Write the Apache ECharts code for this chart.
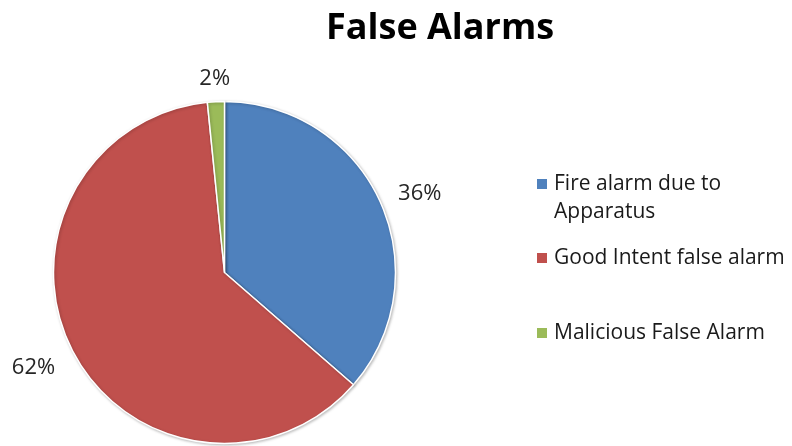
<!DOCTYPE html>
<html>
<head>
<meta charset="utf-8">
<script src="https://cdn.jsdelivr.net/npm/echarts@6/dist/echarts.min.js"></script>
<style>
  html, body { margin: 0; padding: 0; background: #fff; }
  #main { width: 792px; height: 446px; }
</style>
</head>
<body>
<div id="main"></div>
<script>
// data
const categories = ['Fire alarm due to Apparatus', 'Good Intent false alarm', 'Malicious False Alarm']
const shares = [36.4, 62.0, 1.6]
const colors = ['#4F81BD', '#C0504D', '#9BBB59']

const chart = echarts.init(document.getElementById('main'))

// one legend per entry, the gaps are not even in the original
const legendTops = [142, 244, 319]
const legends = categories.map((name, i) => ({
  orient: 'vertical',
  left: 535,
  top: legendTops[i],
  padding: 0,
  itemWidth: 12,
  itemHeight: 12,
  icon: 'rect',
  selectedMode: false,
  data: [name],
  // leading blank line keeps the marker level with the first line
  formatter: (n) => n === 'Fire alarm due to Apparatus' ? '\nFire alarm due to\nApparatus' : n,
  textStyle: {
    fontFamily: 'Open Sans',
    fontSize: 21,
    color: '#1a1a1a',
    lineHeight: 28,
    padding: [0, 0, 0, 1]
  }
}))

// small nudges so the labels sit where Excel put them
const labelNudge = [{dx: -3, dy: 2}, {dx: 3, dy: 6}, {align: 'center'}]

chart.setOption({
  animation: false,
  color: colors,
  title: {
    text: 'False Alarms',
    left: 321,
    top: 6,
    textStyle: {
      fontFamily: 'Open Sans',
      fontWeight: 'bold',
      fontSize: 36,
      color: '#000'
    }
  },
  legend: legends,
  series: [{
    type: 'pie',
    center: [224.5, 272.5],
    radius: 171,
    startAngle: 90,
    clockwise: true,
    avoidLabelOverlap: false,
    itemStyle: {
      borderColor: '#fff',
      borderWidth: 1.5,
      shadowBlur: 3,
      shadowOffsetX: 1,
      shadowOffsetY: 1,
      shadowColor: 'rgba(0,0,0,0.25)'
    },
    label: {
      position: 'outside',
      fontFamily: 'Open Sans',
      fontSize: 22,
      color: '#262626',
      distanceToLabelLine: 0,
      formatter: (p) => Math.round(p.percent) + '%'
    },
    labelLine: { show: false, length: 23, length2: 0 },
    labelLayout: (p) => labelNudge[p.dataIndex],
    emphasis: { disabled: true },
    data: categories.map((name, i) => ({ name: name, value: shares[i] }))
  }]
})
</script>
</body>
</html>
